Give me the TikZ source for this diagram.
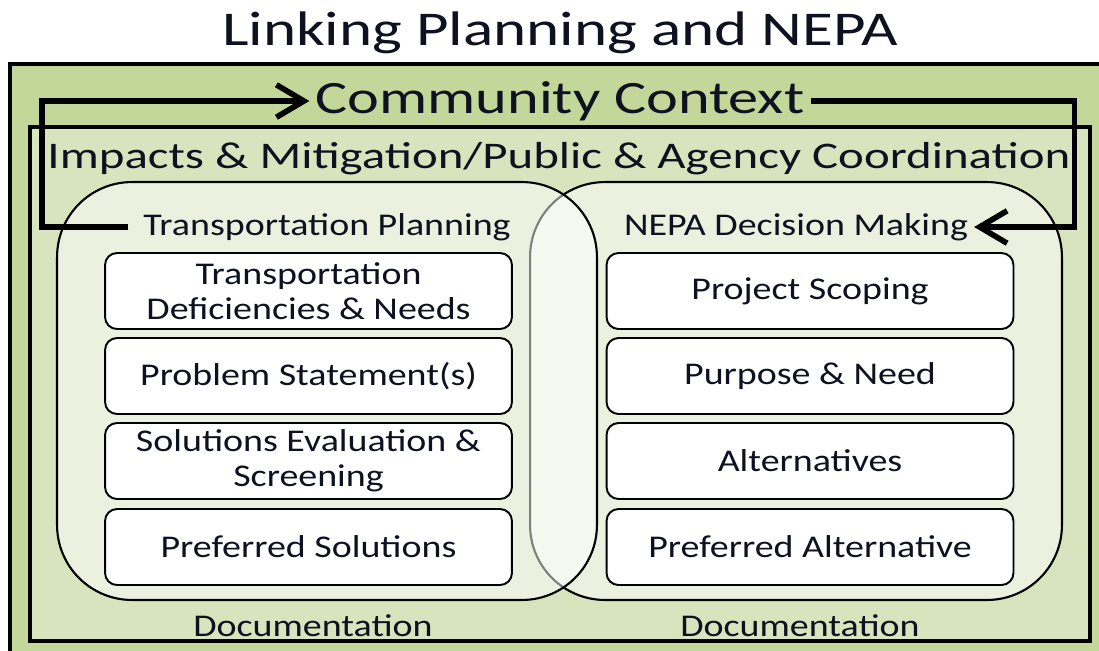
\documentclass[tikz,border=0pt]{standalone}
\usepackage{fontspec}
\setmainfont{Carlito}[FakeStretch=1.2]
\newfontfamily\headfont{Carlito}[FakeStretch=1.3]
\usetikzlibrary{arrows.meta,positioning}
\definecolor{leaf}{RGB}{196,215,155}
\definecolor{pale}{RGB}{215,228,189}
\definecolor{ink}{RGB}{14,18,32}
\tikzset{
  >={Straight Barb[length=5.5mm,width=6.5mm]},
  frame/.style={draw=black,line width=2.4pt,fill=leaf},
  band/.style={draw=black,line width=1.8pt,fill=pale},
  zone/.style={draw=black,line width=1.2pt,fill=white,fill opacity=0.5,
    rounded corners=1.5cm,minimum width=#1,minimum height=8.36cm},
  zone/.default=10.8cm,
  box/.style={draw=black,line width=1.1pt,fill=white,rounded corners=0.24cm,
    minimum width=8.14cm,minimum height=1.52cm,align=center,text=ink,
    font=\fontsize{18}{20}\selectfont},
  tag/.style={text=ink,font=\fontsize{18}{20}\selectfont},
  head/.style={text=ink,font=\headfont\fontsize{#1}{30}\selectfont},
  loop/.style={->,draw=black,line width=3.2pt},
}
\begin{document}
\begin{tikzpicture}[x=0.02cm,y=-0.02cm]
  \useasboundingbox (0,0) rectangle (1099,650);
  \clip (0,0) rectangle (1099,650);
  % frames
  \draw[frame] (10,64) rectangle (1140,700);
  \draw[band] (30,127) rectangle (1090,641);
  % headings
  \node[head=27.6] (ttl) at (560,33) {Linking Planning and NEPA};
  \node[head=26.4] (cc) at (560,101) {Community Context};
  \node[head=21.4] (imp) at (559,159) {Impacts \& Mitigation/Public \& Agency Coordination};
  % the two overlapping zones
  \node[zone=10.64cm] (nepa) at (796,391) {};
  \node[zone] (plan) at (327,391) {};
  \node[tag] (tpl) at (327,227) {Transportation Planning};
  \node[tag] (npl) at (796,227) {NEPA Decision Making};
  \node[tag] (docl) at (313,626) {Documentation};
  \node[tag] (docr) at (800,626) {Documentation};
  % planning steps
  \node[box] (tdn) at (308.5,291) {Transportation\\Deficiencies \& Needs};
  \node[box] (pst) at (308.5,376) {Problem Statement(s)};
  \node[box] (ses) at (308.5,461) {Solutions Evaluation \&\\Screening};
  \node[box] (psl) at (308.5,547) {Preferred Solutions};
  % NEPA steps
  \node[box] (psc) at (810,291) {Project Scoping};
  \node[box] (pn) at (810,376) {Purpose \& Need};
  \node[box] (alt) at (810,461) {Alternatives};
  \node[box] (palt) at (810,547) {Preferred Alternative};
  % context loop
  \draw[loop,shorten <=5pt] (tpl.west) -- ++(-95,0) |- (cc.west);
  \draw[loop] (cc.east) -- ++(264,0) |- (npl.east);
\end{tikzpicture}
\end{document}
